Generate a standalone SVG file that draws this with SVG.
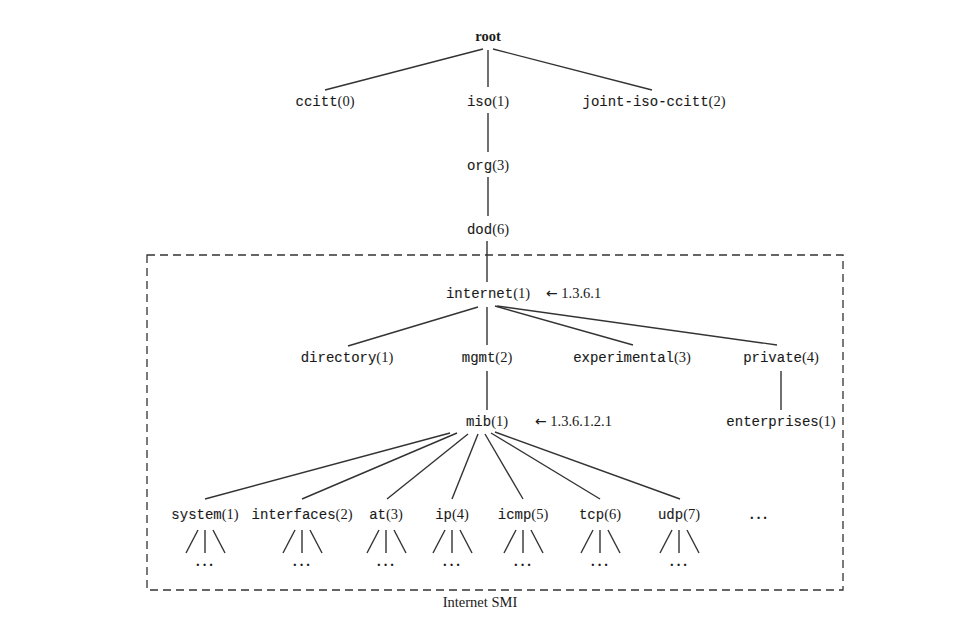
<svg xmlns="http://www.w3.org/2000/svg" width="962" height="617" viewBox="0 0 962 617">
<style>
text{font-size:14px;fill:#1a1a1a;}
.m{font-family:"Liberation Mono","DejaVu Sans Mono",monospace;text-anchor:middle;stroke:#1a1a1a;stroke-width:0.12;}
.s{font-family:"Liberation Serif","DejaVu Serif",serif;stroke:none;font-size:14.5px;}
.c{text-anchor:middle;}
.ar{font-family:"DejaVu Sans","Liberation Serif",sans-serif;font-size:14px;}
.d{letter-spacing:3px;font-weight:bold;}
.e line{stroke:#333;stroke-width:1.4;}
.box{fill:none;stroke:#333;stroke-width:1.3;stroke-dasharray:8 5;}
</style>
<rect class="box" x="147" y="255" width="696" height="335"/>
<g id="connectors" class="e">
<line x1="483" y1="49" x2="325" y2="90"/>
<line x1="488" y1="50" x2="488" y2="87"/>
<line x1="493" y1="49" x2="652" y2="90"/>
<line x1="488" y1="113" x2="488" y2="152"/>
<line x1="488" y1="177" x2="488" y2="216"/>
<line x1="487" y1="241" x2="487" y2="282"/>
<line x1="478" y1="307" x2="348" y2="346"/>
<line x1="487" y1="307" x2="487" y2="345"/>
<line x1="495" y1="306" x2="633" y2="345"/>
<line x1="497" y1="306" x2="777" y2="345"/>
<line x1="487" y1="371" x2="487" y2="410"/>
<line x1="781" y1="371" x2="781" y2="410"/>
<line x1="450" y1="433" x2="205" y2="499"/>
<line x1="457" y1="433" x2="302" y2="499"/>
<line x1="468" y1="434" x2="387" y2="499"/>
<line x1="478" y1="434" x2="452" y2="499"/>
<line x1="485" y1="434" x2="523" y2="499"/>
<line x1="491" y1="433" x2="600" y2="499"/>
<line x1="495" y1="432" x2="680" y2="499"/>
</g>
<g id="n-root"><text class="s c" x="488" y="41" font-weight="bold">root</text></g>
<g id="n-ccitt"><text class="m" x="325" y="106">ccitt<tspan class="s">(0)</tspan></text></g>
<g id="n-iso"><text class="m" x="488" y="106">iso<tspan class="s">(1)</tspan></text></g>
<g id="n-joint"><text class="m" x="654" y="106">joint-iso-ccitt<tspan class="s">(2)</tspan></text></g>
<g id="n-org"><text class="m" x="488" y="170">org<tspan class="s">(3)</tspan></text></g>
<g id="n-dod"><text class="m" x="488" y="234">dod<tspan class="s">(6)</tspan></text></g>
<g id="n-internet"><text class="m" x="488" y="298">internet<tspan class="s">(1)</tspan></text><text class="s" x="546" y="298"><tspan class="ar">←</tspan> 1.3.6.1</text></g>
<g id="n-directory"><text class="m" x="347" y="362">directory<tspan class="s">(1)</tspan></text></g>
<g id="n-mgmt"><text class="m" x="487" y="362">mgmt<tspan class="s">(2)</tspan></text></g>
<g id="n-experimental"><text class="m" x="632" y="362">experimental<tspan class="s">(3)</tspan></text></g>
<g id="n-private"><text class="m" x="781" y="362">private<tspan class="s">(4)</tspan></text></g>
<g id="n-mib"><text class="m" x="487" y="426">mib<tspan class="s">(1)</tspan></text><text class="s" x="535" y="426"><tspan class="ar">←</tspan> 1.3.6.1.2.1</text></g>
<g id="n-enterprises"><text class="m" x="781" y="426">enterprises<tspan class="s">(1)</tspan></text></g>
<g id="n-system"><text class="m" x="205" y="519">system<tspan class="s">(1)</tspan></text></g>
<g id="n-interfaces"><text class="m" x="302" y="519">interfaces<tspan class="s">(2)</tspan></text></g>
<g id="n-at"><text class="m" x="386" y="519">at<tspan class="s">(3)</tspan></text></g>
<g id="n-ip"><text class="m" x="452" y="519">ip<tspan class="s">(4)</tspan></text></g>
<g id="n-icmp"><text class="m" x="523" y="519">icmp<tspan class="s">(5)</tspan></text></g>
<g id="n-tcp"><text class="m" x="600" y="519">tcp<tspan class="s">(6)</tspan></text></g>
<g id="n-udp"><text class="m" x="679" y="519">udp<tspan class="s">(7)</tspan></text></g>
<g id="n-more"><text class="s c d" x="760" y="519">...</text></g>
<g id="subtrees" class="e">
<g transform="translate(205,0)"><line x1="-19" y1="553" x2="-7" y2="530"/><line x1="0" y1="530" x2="0" y2="553"/><line x1="8" y1="530" x2="20" y2="553"/></g>
<g transform="translate(302,0)"><line x1="-19" y1="553" x2="-7" y2="530"/><line x1="0" y1="530" x2="0" y2="553"/><line x1="8" y1="530" x2="20" y2="553"/></g>
<g transform="translate(386,0)"><line x1="-19" y1="553" x2="-7" y2="530"/><line x1="0" y1="530" x2="0" y2="553"/><line x1="8" y1="530" x2="20" y2="553"/></g>
<g transform="translate(452,0)"><line x1="-19" y1="553" x2="-7" y2="530"/><line x1="0" y1="530" x2="0" y2="553"/><line x1="8" y1="530" x2="20" y2="553"/></g>
<g transform="translate(523,0)"><line x1="-19" y1="553" x2="-7" y2="530"/><line x1="0" y1="530" x2="0" y2="553"/><line x1="8" y1="530" x2="20" y2="553"/></g>
<g transform="translate(600,0)"><line x1="-19" y1="553" x2="-7" y2="530"/><line x1="0" y1="530" x2="0" y2="553"/><line x1="8" y1="530" x2="20" y2="553"/></g>
<g transform="translate(679,0)"><line x1="-19" y1="553" x2="-7" y2="530"/><line x1="0" y1="530" x2="0" y2="553"/><line x1="8" y1="530" x2="20" y2="553"/></g>
</g>
<g id="dots">
<text class="s c d" x="206" y="566">...</text>
<text class="s c d" x="303" y="566">...</text>
<text class="s c d" x="387" y="566">...</text>
<text class="s c d" x="453" y="566">...</text>
<text class="s c d" x="524" y="566">...</text>
<text class="s c d" x="601" y="566">...</text>
<text class="s c d" x="680" y="566">...</text>
</g>
<g id="label-smi"><text class="s c" x="480" y="607">Internet SMI</text></g>
</svg>
